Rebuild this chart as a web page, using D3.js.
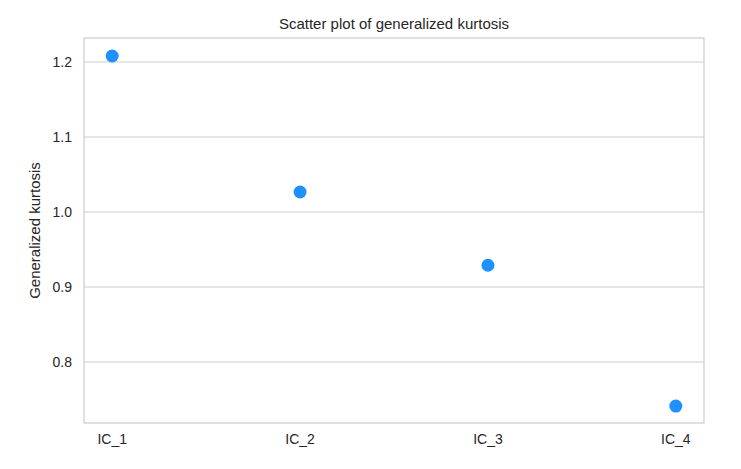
<!DOCTYPE html>
<html><head><meta charset="utf-8">
<script src="https://cdn.jsdelivr.net/npm/d3@7"></script>
<style>body{margin:0;background:#fff}text{font-family:Arial,"Liberation Sans",sans-serif;fill:#262626}</style>
</head><body>
<svg id="c" width="741" height="469"></svg>
<script>
const categories = ["IC_1","IC_2","IC_3","IC_4"];
const values = [1.208, 1.0267, 0.929, 0.7413];
const yTicks = [0.8, 0.9, 1.0, 1.1, 1.2];

const svg = d3.select("#c");
const L=84, R=704, T=38, B=423;
const x = d3.scaleLinear().domain([-0.15, 3.15]).range([L, R]);
const y = d3.scaleLinear().domain([0.7187, 1.232]).range([B, T]);

svg.append("g").selectAll("line").data(yTicks).join("line")
  .attr("x1",L).attr("x2",R).attr("y1",d=>y(d)).attr("y2",d=>y(d))
  .attr("stroke","#cccccc").attr("stroke-width",1);
svg.append("rect").attr("x",L).attr("y",T).attr("width",R-L).attr("height",B-T)
  .attr("fill","none").attr("stroke","#cccccc").attr("stroke-width",1.2);

svg.append("g").selectAll("text").data(yTicks).join("text")
  .attr("x",L-12).attr("y",d=>y(d)).attr("dy","0.35em").attr("text-anchor","end")
  .attr("font-size",14).text(d=>d.toFixed(1));
svg.append("g").selectAll("text").data(categories).join("text")
  .attr("x",(d,i)=>x(i)).attr("y",B+21).attr("text-anchor","middle")
  .attr("font-size",14).text(d=>d);

svg.append("g").selectAll("circle").data(values).join("circle")
  .attr("cx",(d,i)=>x(i)).attr("cy",d=>y(d)).attr("r",6.5).attr("fill","#1e90ff");

svg.append("text").attr("x",(L+R)/2).attr("y",T-9).attr("text-anchor","middle")
  .attr("font-size",15).text("Scatter plot of generalized kurtosis");
svg.append("text").attr("transform",`translate(40,${(T+B)/2}) rotate(-90)`)
  .attr("text-anchor","middle").attr("font-size",15).text("Generalized kurtosis");
</script>
</body></html>
